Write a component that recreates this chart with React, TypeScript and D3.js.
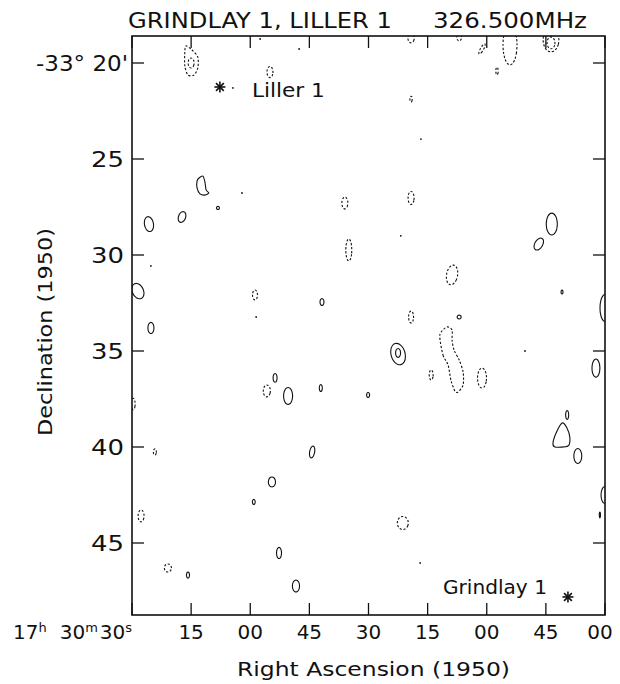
import React from "react";
import * as d3 from "d3";

// RA offset in seconds of time from 17h30m30s (increasing to the right = decreasing RA)
const raTicks = [0, 15, 30, 45, 60, 75, 90, 105, 120];
const raTickLabels = ["30", "15", "00", "45", "30", "15", "00", "45", "00"];
// Declination in arcmin below -33°
const decTicks = [20, 25, 30, 35, 40, 45];
const decTickLabels = ["-33° 20'", "25", "30", "35", "40", "45"];

// [ra(s), dec('), rx(s), ry('), angle(deg)]
const solidEllipses: number[][] = [
  [21.8, 27.55, 0.38, 0.08, 0],
  [12.7, 28.02, 0.9, 0.29, 20],
  [4.3, 28.39, 1.14, 0.39, -10],
  [1.5, 31.88, 1.4, 0.42, -25],
  [48.2, 32.45, 0.5, 0.18, 0],
  [4.8, 33.8, 0.76, 0.29, 0],
  [36.3, 36.4, 0.5, 0.23, 0],
  [39.6, 37.34, 1.14, 0.44, 0],
  [47.9, 36.93, 0.38, 0.18, 0],
  [106.5, 28.39, 1.4, 0.57, 0],
  [103.2, 29.43, 1.0, 0.34, 30],
  [109.1, 31.93, 0.25, 0.1, 0],
  [120, 32.76, 1.27, 0.7, 0],
  [83.0, 33.23, 0.5, 0.1, 0],
  [67.5, 35.16, 1.78, 0.57, -15],
  [67.5, 35.1, 0.63, 0.23, 0],
  [117.7, 35.89, 1.0, 0.47, 0],
  [59.9, 37.29, 0.38, 0.13, 0],
  [45.7, 40.26, 0.63, 0.31, 10],
  [35.5, 41.82, 0.9, 0.26, 0],
  [30.9, 42.86, 0.35, 0.13, 0],
  [37.3, 45.52, 0.63, 0.29, 0],
  [14.2, 46.67, 0.38, 0.16, 0],
  [41.6, 47.24, 0.9, 0.31, 0],
  [110.4, 38.33, 0.38, 0.23, 0],
  [113.1, 40.47, 1.0, 0.39, 0],
  [120, 42.5, 1.0, 0.44, 0],
  [118.7, 43.54, 0.15, 0.15, 0],
];

const dashedEllipses: number[][] = [
  [15.0, 20.0, 0.76, 0.26, 0],
  [35.0, 20.47, 0.76, 0.29, 0],
  [54.0, 27.29, 0.76, 0.31, 0],
  [55.0, 29.74, 0.76, 0.57, 0],
  [31.2, 32.08, 0.63, 0.26, 0],
  [34.2, 37.08, 0.9, 0.31, 0],
  [70.8, 18.7, 0.8, 0.25, 0],
  [83.0, 18.65, 0.6, 0.2, 0],
  [88.8, 19.27, 0.4, 0.3, 30],
  [95.9, 19.06, 1.78, 1.04, 0],
  [92.6, 20.42, 0.3, 0.2, 0],
  [106.3, 18.8, 2.0, 0.62, 0],
  [106.3, 18.95, 1.0, 0.31, 0],
  [70.8, 21.88, 0.3, 0.15, 0],
  [70.8, 27.03, 0.76, 0.34, 0],
  [81.2, 31.04, 1.4, 0.52, 10],
  [70.8, 33.23, 0.63, 0.31, 0],
  [75.9, 36.25, 0.5, 0.26, 0],
  [88.8, 36.41, 1.14, 0.52, 0],
  [0.3, 37.76, 0.5, 0.3, 0],
  [5.8, 40.26, 0.38, 0.16, 0],
  [2.3, 43.59, 0.76, 0.31, 0],
  [9.1, 46.3, 0.9, 0.21, 0],
  [68.7, 43.96, 1.4, 0.34, 0],
];

// closed contours as [ra, dec] vertices
const solidPolygons: number[][][] = [
  [[17.0, 25.99], [18.0, 25.89], [18.5, 26.2], [18.8, 26.61], [19.5, 26.77], [18.5, 26.88], [17.25, 26.82], [16.5, 26.51], [16.5, 26.15]],
  [[109.1, 38.75], [110.35, 39.01], [111.1, 39.53], [110.6, 39.95], [107.3, 40.0], [106.8, 39.79], [107.6, 39.27]],
];

const dashedPolygons: number[][][] = [
  [[13.7, 19.11], [15.2, 19.32], [16.7, 19.69], [16.7, 20.26], [15.7, 20.63], [14.2, 20.63], [13.4, 20.16], [13.4, 19.43]],
  [[78.1, 34.17], [78.9, 35.21], [80.2, 35.73], [80.9, 36.51], [81.9, 37.08], [82.7, 37.14], [84.0, 36.77], [84.0, 36.09], [83.0, 35.47], [81.7, 34.95], [81.2, 34.43], [81.2, 33.91], [79.9, 33.75]],
];

const dots: number[][] = [
  [27.9, 26.77], [4.8, 30.57], [31.5, 33.23], [73.3, 23.96], [68.2, 29.0],
  [99.7, 35.0], [73.1, 46.04], [32.5, 18.75], [42.4, 19.27], [25.6, 21.3],
];

const sourceNames = ["Liller 1", "Grindlay 1"];
const sourceRA = [22.3, 110.6];
const sourceDec = [21.25, 47.81];

const W = 620;
const H = 684;
const left = 132, right = 605, top = 36, bottom = 615;

export default function App() {
  const x = d3.scaleLinear().domain([0, 120]).range([left, right]);
  const y = d3.scaleLinear().domain([18.594, 48.75]).range([top, bottom]);
  const closed = d3.line<number[]>().curve(d3.curveCardinalClosed.tension(0.2));

  const ellipsePath = (e: number[]) => {
    const [ra, dec, rx, ry, ang] = e;
    const cx = x(ra), cy = y(dec);
    const rxp = Math.abs(x(ra + rx) - cx);
    const ryp = Math.abs(y(dec + ry) - cy);
    const a = (ang * Math.PI) / 180;
    const pts: number[][] = d3.range(16).map((i) => {
      const t = (i / 16) * 2 * Math.PI;
      const px = rxp * Math.cos(t), py = ryp * Math.sin(t);
      return [cx + px * Math.cos(a) - py * Math.sin(a), cy + px * Math.sin(a) + py * Math.cos(a)];
    });
    return closed(pts) || "";
  };
  const polyPath = (p: number[][]) => closed(p.map(([ra, dec]) => [x(ra), y(dec)])) || "";

  const font = "'DejaVu Sans', sans-serif";
  const ink = "#111";

  const star = (cx: number, cy: number, r: number) =>
    [0, 45, 90, 135].map((deg) => {
      const a = (deg * Math.PI) / 180;
      return (
        <line key={deg} x1={cx - r * Math.cos(a)} y1={cy - r * Math.sin(a)} x2={cx + r * Math.cos(a)} y2={cy + r * Math.sin(a)} stroke={ink} strokeWidth={1.6} />
      );
    });

  return (
    <svg width={W} height={H} style={{ position: "absolute", left: 0, top: 0, background: "#fff" }}>
      <defs>
        <clipPath id="frame">
          <rect x={left} y={top} width={right - left} height={bottom - top} />
        </clipPath>
      </defs>
      <rect x={0} y={0} width={W} height={H} fill="#fff" />

      {/* title */}
      <text x={128} y={28} fontFamily={font} fontSize={21} fill={ink} textLength={264} lengthAdjust="spacingAndGlyphs">GRINDLAY 1, LILLER 1</text>
      <text x={433} y={28} fontFamily={font} fontSize={21} fill={ink} textLength={154} lengthAdjust="spacingAndGlyphs">326.500MHz</text>

      {/* contours */}
      <g clipPath="url(#frame)" fill="none" stroke={ink} strokeWidth={1.1}>
        {solidEllipses.map((e, i) => <path key={"se" + i} d={ellipsePath(e)} />)}
        {solidPolygons.map((p, i) => <path key={"sp" + i} d={polyPath(p)} />)}
        <g strokeDasharray="2.2,1.8">
          {dashedEllipses.map((e, i) => <path key={"de" + i} d={ellipsePath(e)} />)}
          {dashedPolygons.map((p, i) => <path key={"dp" + i} d={polyPath(p)} />)}
        </g>
        {dots.map((d, i) => <circle key={"dt" + i} cx={x(d[0])} cy={y(d[1])} r={0.9} fill={ink} stroke="none" />)}
      </g>

      {/* frame */}
      <rect x={left} y={top} width={right - left} height={bottom - top} fill="none" stroke={ink} strokeWidth={1.6} />
      {raTicks.map((t, i) => (
        <g key={"rt" + i}>
          <line x1={x(t)} x2={x(t)} y1={bottom} y2={bottom - 12} stroke={ink} strokeWidth={1.3} />
          <line x1={x(t)} x2={x(t)} y1={top} y2={top + 12} stroke={ink} strokeWidth={1.3} />
        </g>
      ))}
      {decTicks.map((t, i) => (
        <g key={"dt" + i}>
          <line x1={left} x2={left + 12} y1={y(t)} y2={y(t)} stroke={ink} strokeWidth={1.3} />
          <line x1={right} x2={right - 12} y1={y(t)} y2={y(t)} stroke={ink} strokeWidth={1.3} />
        </g>
      ))}

      {/* y tick labels */}
      {decTicks.map((t, i) => (
        <text key={"dl" + i} x={i === 0 ? 128 : 124} y={y(t) + 8} textAnchor="end" fontFamily={font} fontSize={21} fill={ink}
          textLength={i === 0 ? 92 : 33} lengthAdjust="spacingAndGlyphs">
          {decTickLabels[i]}
        </text>
      ))}

      {/* x tick labels */}
      {raTicks.map((t, i) =>
        i === 0 ? (
          <text key={"xl" + i} x={13} y={639} fontFamily={font} fontSize={20} fill={ink}>
            17<tspan dy={-7} fontSize={13}>h</tspan>
            <tspan dy={7} dx={13}>30</tspan>
            <tspan dy={-7} fontSize={13}>m</tspan>
            <tspan dy={7} dx={2}>30</tspan>
            <tspan dy={-7} fontSize={13}>s</tspan>
          </text>
        ) : (
          <text key={"xl" + i} x={i === raTicks.length - 1 ? x(t) - 5 : x(t)} y={639} textAnchor="middle" fontFamily={font} fontSize={20} fill={ink}>
            {raTickLabels[i]}
          </text>
        )
      )}

      {/* axis titles */}
      <text x={237} y={676} fontFamily={font} fontSize={20} fill={ink} textLength={273} lengthAdjust="spacingAndGlyphs">Right Ascension (1950)</text>
      <text transform={`translate(52,332) rotate(-90)`} textAnchor="middle" fontFamily={font} fontSize={20} fill={ink} textLength={208} lengthAdjust="spacingAndGlyphs">Declination (1950)</text>

      {/* sources */}
      {sourceNames.map((n, i) => {
        const cx = x(sourceRA[i]), cy = y(sourceDec[i]);
        return (
          <g key={n}>
            {star(cx, cy, 5.5)}
            {i === 0 ? (
              <text x={cx + 32} y={cy + 10} fontFamily={font} fontSize={20} fill={ink} textLength={73} lengthAdjust="spacingAndGlyphs">{n}</text>
            ) : (
              <text x={cx - 125} y={cy - 3} fontFamily={font} fontSize={20} fill={ink} textLength={104} lengthAdjust="spacingAndGlyphs">{n}</text>
            )}
          </g>
        );
      })}
    </svg>
  );
}
